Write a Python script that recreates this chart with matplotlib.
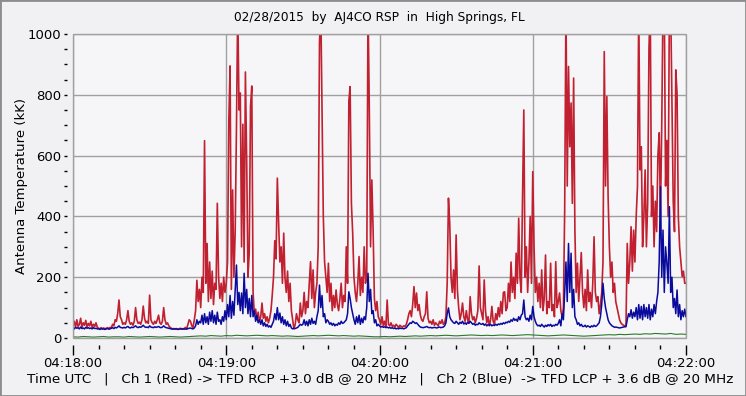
import numpy as np
import matplotlib
matplotlib.use('Agg')
import matplotlib.pyplot as plt
from matplotlib.ticker import MultipleLocator, FixedLocator
from matplotlib.patches import Rectangle

title = '02/28/2015  by  AJ4CO RSP  in  High Springs, FL'
ylabel = 'Antenna Temperature (kK)'
footer = ('Time UTC   |   Ch 1 (Red) -> TFD RCP +3.0 dB @ 20 MHz   |   '
          'Ch 2 (Blue)  -> TFD LCP + 3.6 dB @ 20 MHz')
time_ticks = [0, 60, 120, 180, 240]  # seconds after 04:18:00
time_labels = ['04:18:00', '04:19:00', '04:20:00', '04:21:00', '04:22:00']

# Ch 1 (red), one value every 0.5 s, one row = 10 s
ch1_red = [
    40, 55, 35, 60, 38, 45, 65, 35, 50, 42, 58, 36, 48, 40, 55, 35, 45, 38, 50, 36,
    32, 30, 34, 31, 33, 30, 32, 34, 31, 35, 33, 45, 40, 60, 55, 80, 125, 70, 60, 45,
    50, 45, 60, 90, 55, 45, 50, 42, 55, 100, 60, 48, 52, 45, 60, 105, 65, 50, 55, 48,
    141, 60, 50, 45, 55, 48, 60, 75, 50, 45, 55, 100, 60, 45, 50, 40, 35, 32, 30, 31,
    30, 31, 29, 30, 32, 30, 31, 30, 35, 30, 45, 60, 55, 40, 35, 60, 90, 190, 120, 160,
    100, 200, 150, 649, 180, 311, 120, 250, 130, 220, 110, 180, 160, 443, 200, 130, 180, 120, 200, 150,
    180, 250, 710, 895, 160, 487, 200, 350, 691, 1100, 750, 806, 300, 703, 250, 875, 585, 200, 280, 763,
    829, 150, 80, 95, 60, 85, 55, 70, 115, 65, 80, 55, 70, 50, 65, 90, 140, 200, 320, 260,
    526, 380, 250, 300, 180, 345, 197, 150, 220, 120, 180, 90, 60, 30, 45, 80, 60, 50, 115, 70,
    90, 150, 80, 120, 100, 180, 251, 130, 224, 100, 150, 180, 300, 970, 1100, 761, 400, 250, 200, 150,
    246, 120, 180, 90, 140, 100, 158, 110, 90, 130, 180, 100, 140, 120, 300, 180, 780, 827, 443, 345,
    200, 150, 120, 180, 268, 140, 200, 150, 300, 180, 200, 1100, 761, 300, 520, 355, 130, 90, 120, 70,
    60, 45, 70, 40, 55, 38, 125, 45, 40, 50, 38, 42, 36, 45, 40, 35, 42, 38, 36, 40,
    38, 45, 60, 80, 90, 70, 110, 169, 100, 148, 90, 110, 75, 60, 55, 70, 80, 152, 65, 50,
    55, 45, 60, 42, 50, 45, 40, 55, 48, 60, 45, 50, 70, 180, 460, 377, 200, 150, 224, 130,
    339, 158, 100, 60, 80, 115, 70, 55, 90, 60, 50, 136, 80, 60, 70, 50, 65, 90, 237, 100,
    80, 60, 191, 90, 50, 70, 40, 60, 104, 55, 45, 80, 60, 100, 70, 120, 80, 150, 152, 90,
    100, 180, 120, 250, 150, 200, 130, 279, 180, 394, 200, 150, 465, 750, 200, 300, 150, 250, 400, 180,
    547, 305, 150, 200, 120, 180, 100, 224, 90, 130, 273, 80, 120, 100, 246, 90, 110, 70, 251, 100,
    120, 148, 90, 70, 100, 421, 1100, 500, 893, 629, 773, 443, 855, 355, 150, 246, 120, 200, 281, 150,
    100, 160, 90, 224, 120, 150, 100, 180, 333, 150, 120, 136, 80, 110, 150, 250, 942, 500, 794, 465,
    300, 200, 250, 150, 180, 120, 100, 80, 60, 50, 45, 42, 40, 42, 311, 180, 250, 366, 220, 355,
    250, 400, 498, 1100, 553, 629, 300, 400, 553, 300, 443, 953, 1100, 400, 500, 300, 450, 350, 600, 675,
    400, 700, 1100, 1100, 500, 650, 400, 1100, 1100, 766, 450, 350, 882, 803, 399, 300, 250, 202, 220, 180,
    180,
]

# Ch 2 (blue), one value every 0.5 s
ch2_blue = [
    33, 30, 35, 32, 34, 30, 36, 31, 33, 30, 35, 32, 34, 31, 33, 30, 34, 31, 32, 30,
    30, 28, 31, 29, 30, 28, 30, 31, 29, 30, 32, 34, 31, 35, 33, 36, 40, 35, 34, 33,
    35, 33, 36, 38, 34, 33, 36, 34, 37, 40, 36, 34, 37, 35, 38, 42, 37, 35, 36, 34,
    40, 36, 35, 34, 37, 35, 36, 38, 35, 34, 36, 40, 36, 34, 33, 32, 31, 30, 29, 30,
    29, 30, 28, 29, 30, 29, 30, 29, 30, 29, 31, 32, 33, 31, 30, 33, 40, 60, 45, 55,
    50, 75, 45, 80, 50, 70, 45, 85, 55, 90, 50, 75, 45, 85, 55, 60, 45, 70, 55, 90,
    60, 110, 70, 140, 65, 120, 75, 160, 240, 110, 150, 90, 148, 80, 213, 100, 160, 80, 130, 70,
    140, 70, 90, 55, 75, 50, 60, 45, 60, 40, 50, 38, 45, 36, 40, 35, 45, 55, 80, 60,
    100, 60, 82, 50, 70, 45, 60, 40, 55, 38, 45, 33, 30, 32, 31, 33, 35, 40, 45, 42,
    45, 60, 42, 55, 40, 60, 45, 65, 48, 55, 45, 70, 90, 174, 100, 140, 70, 80, 50, 60,
    55, 45, 50, 42, 48, 40, 45, 42, 50, 45, 55, 48, 50, 55, 60, 80, 152, 130, 100, 80,
    60, 45, 70, 50, 75, 45, 65, 50, 70, 60, 100, 213, 120, 160, 80, 90, 50, 60, 40, 45,
    40, 36, 38, 35, 37, 34, 36, 33, 35, 32, 34, 31, 33, 30, 32, 30, 33, 31, 32, 30,
    32, 34, 40, 45, 50, 48, 55, 52, 48, 50, 45, 40, 36, 35, 34, 35, 36, 38, 35, 34,
    35, 33, 34, 35, 34, 33, 35, 36, 34, 35, 36, 40, 50, 80, 99, 70, 60, 55, 50, 48,
    55, 50, 45, 52, 48, 55, 46, 50, 45, 52, 48, 55, 50, 45, 48, 42, 45, 44, 50, 46,
    45, 48, 42, 46, 40, 44, 42, 45, 40, 43, 41, 45, 42, 46, 44, 48, 45, 50, 47, 52,
    50, 55, 52, 60, 55, 65, 58, 62, 55, 70, 60, 75, 80, 125, 70, 60, 65, 55, 75, 60,
    104, 70, 55, 45, 40, 42, 38, 45, 40, 36, 42, 38, 44, 40, 45, 38, 42, 40, 45, 42,
    48, 60, 40, 80, 60, 150, 250, 120, 311, 150, 279, 100, 160, 70, 60, 45, 50, 40, 45, 38,
    38, 42, 36, 40, 38, 35, 40, 37, 42, 38, 40, 45, 50, 70, 110, 180, 130, 100, 80, 60,
    50, 45, 40, 38, 35, 36, 35, 34, 33, 34, 35, 36, 37, 37, 60, 80, 70, 93, 65, 85,
    70, 100, 60, 110, 65, 104, 60, 110, 70, 100, 65, 110, 60, 95, 70, 110, 80, 120, 150, 250,
    498, 200, 355, 150, 300, 246, 180, 432, 150, 200, 100, 130, 80, 158, 70, 110, 60, 90, 70, 95,
    70,
]

# third trace (green), one value every 2 s
ch3_green = [
    4, 3, 5, 4, 3, 4, 5, 3, 4, 4, 3, 5, 4, 3, 4, 5, 4, 3, 4, 5, 4, 3, 4, 5,
    6, 7, 6, 8, 7, 6, 8, 7, 9, 8, 7, 8,
    9, 8, 7, 8, 7, 6, 7, 6, 5, 6, 7, 8,
    7, 8, 9, 8, 7, 8, 7, 6, 7, 6, 5, 4,
    4, 5, 4, 5, 6, 5, 6, 7, 6, 7, 8, 7,
    8, 9, 8, 7, 8, 9, 10, 9, 8, 9, 8, 9,
    10, 9, 8, 9, 10, 11, 10, 9, 8, 7, 8, 9,
    10, 9, 8, 7, 6, 7, 8, 9, 10, 11, 10, 12,
    11, 12, 13, 12, 14, 13, 15, 14, 13, 15, 12, 13,
    12,
]

t_fast = np.arange(len(ch1_red)) * 0.5
t_slow = np.arange(len(ch3_green)) * 2.0

fig = plt.figure(figsize=(7.46, 3.96), dpi=100, facecolor='#F1F1F4')
ax = fig.add_axes([73 / 746, 1 - 338 / 396, 613 / 746, 304 / 396])
ax.set_facecolor('#F6F6F9')

ax.plot(t_fast, ch1_red, color='#C0202F', lw=1.2, zorder=3)
ax.plot(t_fast, ch2_blue, color='#0A0A9C', lw=1.1, zorder=4)
ax.plot(t_slow, ch3_green, color='#2A7A2A', lw=0.8, zorder=5)

ax.set_xlim(0, 240)
ax.set_ylim(0, 1000)
ax.xaxis.set_major_locator(FixedLocator(time_ticks))
ax.set_xticklabels(time_labels)
ax.xaxis.set_minor_locator(MultipleLocator(10))
ax.yaxis.set_major_locator(MultipleLocator(200))
ax.yaxis.set_minor_locator(MultipleLocator(50))
ax.grid(True, which='major', color='#A0A0A0', lw=1, zorder=1)

for s in ax.spines.values():
    s.set_visible(False)
ax.spines['bottom'].set_position(('outward', 5))
ax.spines['left'].set_position(('outward', 4))
ax.add_patch(Rectangle((0, 0), 1, 1, transform=ax.transAxes, fill=False,
                       ec='#A0A0A0', lw=1, clip_on=False, zorder=6))

ax.tick_params(axis='x', which='major', length=7, width=1, color='black',
               labelsize=9.5, pad=2)
ax.tick_params(axis='x', which='minor', length=3, width=1, color='black')
ax.tick_params(axis='y', which='both', length=2.5, width=1, color='black',
               labelsize=9.5, pad=2)

ax.set_ylabel(ylabel, fontsize=9.5, labelpad=0)
fig.text(0.508, 0.955, title, ha='center', va='center', fontsize=8.7)
fig.text(0.51, 0.043, footer, ha='center', va='center', fontsize=9.7)

fig.add_artist(Rectangle((0, 0), 1, 1, transform=fig.transFigure, fill=False,
                         ec='#8C8C8C', lw=2))

fig.savefig('out.png', dpi=100, facecolor=fig.get_facecolor())
